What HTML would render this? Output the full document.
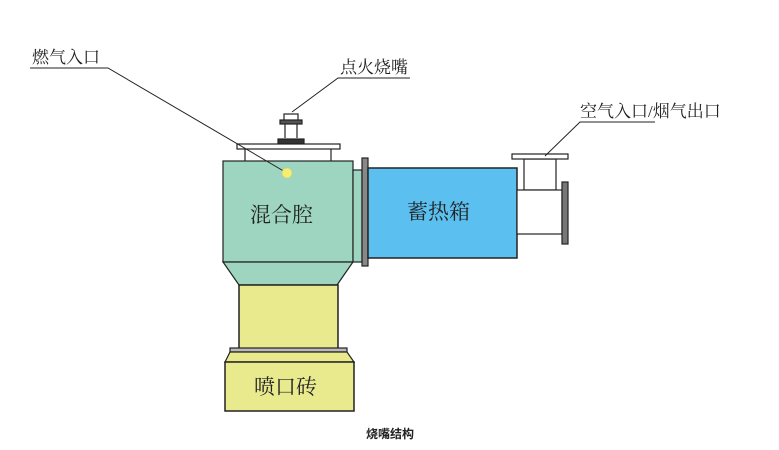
<!DOCTYPE html><html><head><meta charset="utf-8"><style>body{margin:0;background:#fff}svg{display:block}text{font-family:"Liberation Serif","Noto Serif CJK SC",serif;fill:#222}</style></head><body>
<svg width="779" height="450" viewBox="0 0 779 450">
<g stroke="#222" stroke-width="1.2">
<!-- igniter -->
<rect x="284" y="114" width="14" height="8" fill="#fff"/>
<rect x="280" y="120" width="22" height="4" fill="#555"/>
<line x1="285" y1="124" x2="285" y2="138"/><line x1="297" y1="124" x2="297" y2="138"/>
<rect x="278" y="139" width="26" height="5" fill="#333"/>
<!-- top plate -->
<rect x="237" y="144" width="103" height="5" fill="#fff"/>
<line x1="245" y1="149" x2="245" y2="161"/><line x1="331" y1="149" x2="331" y2="161"/>
<!-- mixing chamber -->
<rect x="223" y="161" width="130" height="101" fill="#9dd5c0"/>
<polygon points="223,262 353,262 337,285 239,285" fill="#9dd5c0"/>
<rect x="353" y="170" width="9" height="92" fill="#9dd5c0"/>
<rect x="362" y="158" width="6" height="108" fill="#888"/>
<!-- blue -->
<rect x="368" y="168" width="149" height="90" fill="#5bc0f0" stroke-width="1.5"/>
<!-- pipe -->
<rect x="524" y="159" width="32" height="31" fill="#fff"/>
<rect x="512" y="154" width="56" height="5" fill="#fff"/>
<rect x="517" y="190" width="45" height="44" fill="#fff"/>
<rect x="562" y="182" width="6" height="62" fill="#777"/>
<!-- yellow column -->
<rect x="239" y="285" width="99" height="64" fill="#e9ea8e" stroke-width="1.5"/>
<rect x="230" y="348" width="117" height="4" fill="#bbb"/>
<polygon points="230,352 347,352 354,362 225,362" fill="#e9ea8e"/>
<rect x="225" y="362" width="129" height="49" fill="#e9ea8e" stroke-width="1.5"/>
<!-- leaders -->
<polyline points="30,68 108,68 287,173" fill="none" stroke-width="1"/>
<polyline points="410,78 338,78 292,112" fill="none" stroke-width="1"/>
<polyline points="655,122 580,122 545,156" fill="none" stroke-width="1"/>
</g>
<circle cx="287" cy="173" r="5" fill="#f5ef6a" stroke="#cc9" stroke-width="0.6"/>
<g font-size="17">
<text x="32" y="63">燃气入口</text>
<text x="340" y="73">点火烧嘴</text>
<text x="580" y="117">空气入口/烟气出口</text>
</g>
<g font-size="21">
<text x="250" y="222">混合腔</text>
<text x="407" y="219">蓄热箱</text>
<text x="254" y="394">喷口砖</text>
</g>
<text x="366" y="438" font-size="12" font-weight="bold" style="font-family:'Liberation Sans','Noto Sans CJK SC',sans-serif">烧嘴结构</text>
</svg></body></html>
